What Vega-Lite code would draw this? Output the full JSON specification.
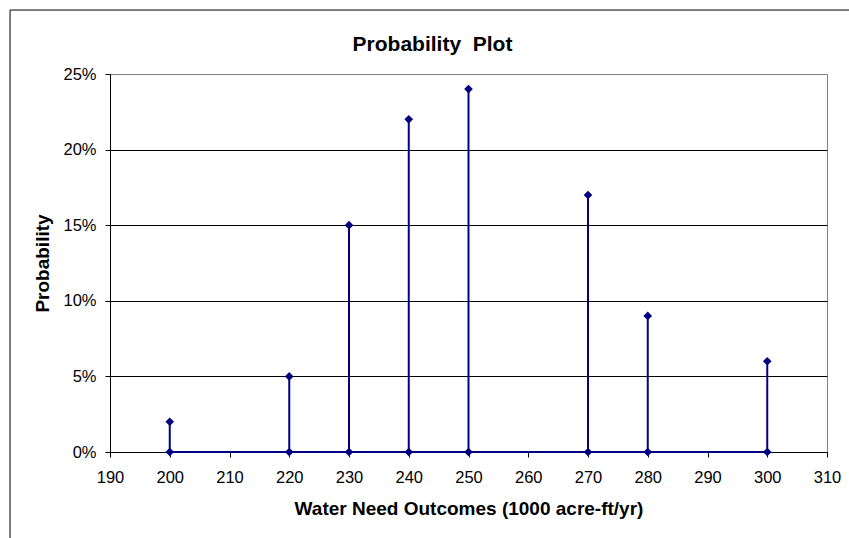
{
  "$schema": "https://vega.github.io/schema/vega-lite/v6.json",
  "width": 717,
  "height": 378,
  "autosize": {"type": "none"},
  "padding": {"left": 110, "top": 74, "right": 22, "bottom": 86},
  "background": "white",
  "config": {
    "font": "Liberation Sans",
    "view": {"stroke": "#808080", "strokeWidth": 1},
    "axis": {"labelFont": "Liberation Sans", "titleFont": "Liberation Sans", "labelColor": "black", "titleColor": "black", "domainColor": "black", "tickColor": "black"}
  },
  "title": {
    "text": "Probability \u00a0Plot",
    "font": "Liberation Sans",
    "fontSize": 21,
    "fontWeight": "bold",
    "color": "black",
    "anchor": "middle",
    "frame": "group",
    "baseline": "alphabetic",
    "dx": -36,
    "offset": -62
  },
  "data": {
    "values": [
      {"outcome": 200, "prob": 0.02},
      {"outcome": 220, "prob": 0.05},
      {"outcome": 230, "prob": 0.15},
      {"outcome": 240, "prob": 0.22},
      {"outcome": 250, "prob": 0.24},
      {"outcome": 270, "prob": 0.17},
      {"outcome": 280, "prob": 0.09},
      {"outcome": 300, "prob": 0.06}
    ]
  },
  "layer": [
    {
      "mark": {"type": "rule", "color": "#000080", "strokeWidth": 2},
      "encoding": {
        "x": {
          "field": "outcome",
          "type": "quantitative",
          "scale": {"domain": [190, 310], "nice": false, "zero": false},
          "axis": {
            "title": "Water Need Outcomes (1000 acre-ft/yr)",
            "titleFontSize": 19,
            "titleFontWeight": "bold",
            "titlePadding": 14,
            "values": [190, 200, 210, 220, 230, 240, 250, 260, 270, 280, 290, 300, 310],
            "labelFontSize": 16.5,
            "labelPadding": 12,
            "tickSize": 5,
            "grid": false,
            "labelFlush": false,
            "labelOverlap": false
          }
        },
        "y": {
          "field": "prob",
          "type": "quantitative",
          "scale": {"domain": [0, 0.25], "nice": false},
          "axis": {
            "title": "Probability",
            "titleFontSize": 19,
            "titleFontWeight": "bold",
            "titlePadding": 10,
            "values": [0, 0.05, 0.1, 0.15, 0.2, 0.25],
            "format": ".0%",
            "labelFontSize": 16.5,
            "labelPadding": 9,
            "tickSize": 5,
            "grid": true,
            "gridColor": {"condition": {"test": "datum.value >= 0.249", "value": "#808080"}, "value": "black"},
            "gridWidth": 1,
            "labelFlush": false
          }
        },
        "y2": {"datum": 0}
      }
    },
    {
      "mark": {"type": "line", "color": "#000080", "strokeWidth": 2},
      "encoding": {
        "x": {"field": "outcome", "type": "quantitative"},
        "y": {"datum": 0, "type": "quantitative"}
      }
    },
    {
      "mark": {"type": "point", "shape": "diamond", "filled": true, "color": "#000080", "size": 75, "opacity": 1},
      "encoding": {
        "x": {"field": "outcome", "type": "quantitative"},
        "y": {"field": "prob", "type": "quantitative"}
      }
    },
    {
      "mark": {"type": "point", "shape": "diamond", "filled": true, "color": "#000080", "size": 75, "opacity": 1},
      "encoding": {
        "x": {"field": "outcome", "type": "quantitative"},
        "y": {"datum": 0, "type": "quantitative"}
      }
    },
    {
      "data": {"values": [{"frame": 1}]},
      "mark": {"type": "rect", "fill": null, "fillOpacity": 0, "stroke": "black", "strokeWidth": 1, "clip": false},
      "encoding": {
        "x": {"datum": 173.27, "type": "quantitative"},
        "x2": {"datum": 330},
        "y": {"datum": 0.2923, "type": "quantitative"},
        "y2": {"datum": -0.1}
      }
    }
  ]
}
